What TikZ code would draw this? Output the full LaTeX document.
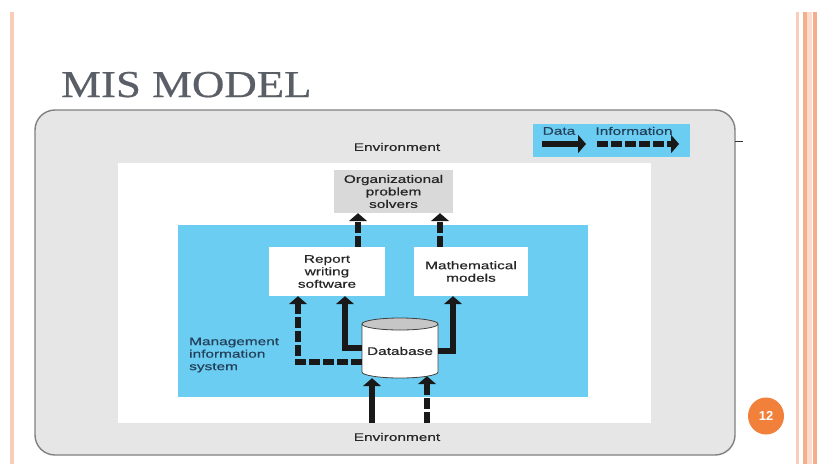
\documentclass[tikz,border=0pt]{standalone}
\usepackage{fontspec}
\setmainfont{Liberation Sans}[FakeStretch=1.4,FakeBold=0.5]
\newfontfamily\titlefont{Liberation Serif}[FakeStretch=1.18,FakeBold=0.6]
\newfontfamily\badgefont{Liberation Sans Bold}
\usetikzlibrary{arrows.meta,shapes.geometric}
\definecolor{misblue}{HTML}{6CCDF2}
\definecolor{envgrey}{HTML}{E6E6E6}
\definecolor{orggrey}{HTML}{D9D9D9}
\definecolor{titlegrey}{HTML}{5A5E66}
\definecolor{pagepale}{HTML}{F9CDB9}
\definecolor{pageorange}{HTML}{F4AE8C}
\definecolor{badge}{HTML}{F0803A}
\definecolor{navytext}{HTML}{23405A}
\tikzset{
  lbl/.style={font=\fontsize{11}{12.5}\selectfont, text=black!85, align=center, inner sep=0pt},
  boxw/.style={fill=white, draw=none, minimum width=116pt, minimum height=49pt, inner sep=0pt},
  flowdata/.style={line width=6.5pt, draw=black!90, -{Triangle[width=18pt,length=8pt]}},
  flowinfo/.style={flowdata, dash pattern=on 11pt off 3pt},
}
\begin{document}
\begin{tikzpicture}[x=1pt,y=-1pt]
\useasboundingbox (0,0) rectangle (818,464);
% page decoration
\draw[pagepale, line width=3.5pt] (12,12) -- (12,464);
\draw[pagepale, line width=3pt] (797.5,12) -- (797.5,464);
\draw[pageorange, line width=4pt] (804.5,12) -- (804.5,464);
\draw[pagepale!70, line width=5pt] (809.5,12) -- (809.5,464);
\draw[pageorange, line width=4pt] (815,12) -- (815,464);
% title
\node[anchor=base west, inner sep=0pt, text=titlegrey, font=\titlefont\fontsize{38}{40}\selectfont] (title) at (61,97) {MIS MODEL};
% environment
\draw[fill=envgrey, draw=black!50, line width=1.4pt, rounded corners=20pt] (35,110) rectangle (735,455);
\draw[black!80, line width=0.6pt] (735,141) -- (743,141);
\fill[white] (118,163) rectangle (651,423);
\fill[misblue] (178,225) rectangle (588,397);
\node[lbl] (envtop) at (397,147) {Environment};
\node[lbl] (envbot) at (397,437) {Environment};
% legend
\fill[misblue] (533,124) rectangle (690,157);
\node[lbl, text=navytext] (ldata) at (559,131) {Data};
\node[lbl, text=navytext] (linfo) at (634,131) {Information};
\coordinate (ld1) at (542,144); \coordinate (ld2) at (586,144);
\coordinate (li1) at (597,144); \coordinate (li2) at (679,144);
\draw[flowdata] (ld1) -- (ld2);
\draw[flowinfo] (li1) -- (li2);
% boxes
\node[fill=orggrey, minimum width=119pt, minimum height=43pt, inner sep=0pt] (org) at (393.5,191.5) {};
\node[lbl] at (org) {Organizational\\problem\\solvers};
\node[boxw] (rep) at (327,271.5) {};
\node[lbl] at (rep) {Report\\writing\\software};
\node[boxw, minimum width=114pt] (math) at (471,271.5) {};
\node[lbl] at (math) {Mathematical\\models};
\node[lbl, anchor=west, align=left, text=navytext] (mis) at (189,355) {Management\\information\\system};
% database cylinder
\node[minimum width=76pt, minimum height=60pt, inner sep=0pt] (db) at (400,348) {};
\draw[fill=white, draw=black!75, line width=0.8pt] (362,324) -- (362,372) arc[start angle=180, end angle=0, x radius=38, y radius=6] -- (438,324);
\draw[fill=gray!45, draw=black!75, line width=0.8pt] (400,324) ellipse [x radius=38, y radius=6];
\node[lbl] at (400,351) {Database};
% environment inputs
\coordinate (e1) at (372,423);
\coordinate (e2) at (427,423);
\draw[flowdata] (e1) -- (e1 |- db.south);
\draw[flowinfo] (e2) -- ([yshift=2pt]e2 |- db.south);
% database to software
\draw[flowdata] (db.west) -| ([xshift=18pt]rep.south);
\draw[flowinfo] ([yshift=-14pt]db.west) -| ([xshift=-29pt]rep.south);
\draw[flowdata] ([yshift=-3pt]db.east) -| ([xshift=-18pt]math.south);
% software to problem solvers
\draw[flowinfo] ([xshift=31pt]rep.north) -- ([xshift=31pt]rep.north |- org.south);
\draw[flowinfo] ([xshift=-31pt]math.north) -- ([xshift=-31pt]math.north |- org.south);
% page number
\node[ellipse, fill=badge, minimum width=36pt, minimum height=37pt, inner sep=0pt, text=white, font=\badgefont\fontsize{13}{14}\selectfont] (pg) at (766,416) {12};
\end{tikzpicture}
\end{document}
